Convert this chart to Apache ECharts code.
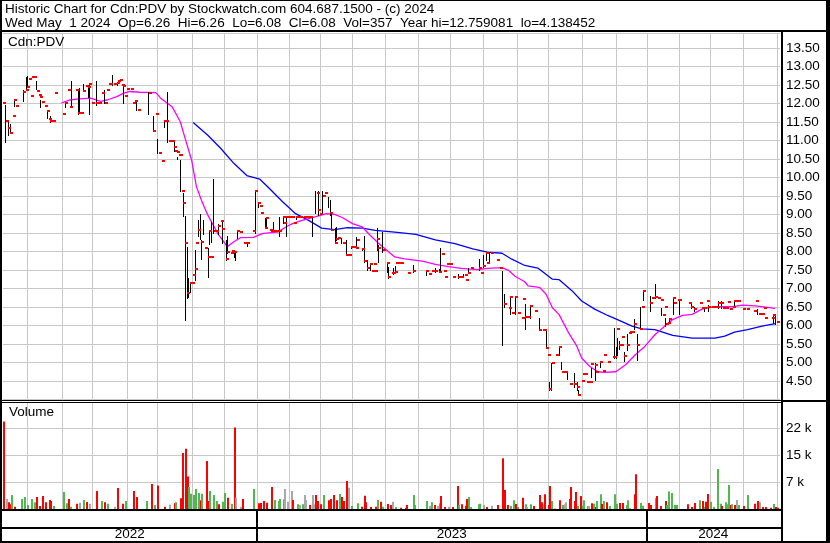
<!DOCTYPE html>
<html>
<head>
<meta charset="utf-8">
<title>Cdn:PDV</title>
<script src="https://cdn.jsdelivr.net/npm/echarts@6/dist/echarts.min.js"></script>
<style>
  html, body { margin: 0; padding: 0; background: #fff; }
  #chart { width: 830px; height: 543px; }
</style>
</head>
<body>
<div id="chart"></div>
<script>
// x = trading day counted from the first bar (May 2022)
const dayMax = 478
const monthStarts = [15, 36, 55, 76, 95, 116, 136, 156, 176, 195, 215, 235, 255, 275, 295, 316, 335, 356, 377, 396, 416, 435, 455, 476]
const yearBreaks = [156, 396]
const yearNames = ['2022', '2023', '2024']
const yearSpans = [[0, 156], [156, 396], [396, 478]]

const header1 = 'Historic Chart for Cdn:PDV by Stockwatch.com 604.687.1500 - (c) 2024'
const header2 = 'Wed May  1 2024  Op=6.26  Hi=6.26  Lo=6.08  Cl=6.08  Vol=357  Year hi=12.759081  lo=4.138452'

// daily range bars [day, low, high]
const ranges = [
  [1, 10.96, 11.96], [3, 11.15, 11.55], [4, 11.2, 11.45], [7, 11.93, 12.12], [12, 12.05, 12.35], [14, 12.35, 12.7],
  [15, 12.5, 12.75], [20, 12.4, 12.6], [23, 11.9, 12.1], [27, 11.6, 11.8], [29, 11.5, 11.65], [38, 11.9, 12.02],
  [42, 11.9, 12.6], [46, 11.7, 12.4], [47, 11.75, 12.42], [49, 12.34, 12.53], [52, 12.18, 12.45], [53, 11.7, 12.53],
  [57, 11.95, 12.6], [62, 12.0, 12.35], [67, 12.5, 12.77], [70, 12.5, 12.58], [74, 12.0, 12.5], [82, 11.82, 12.07],
  [89, 11.7, 12.3], [92, 11.26, 11.67], [95, 10.65, 11.03], [99, 11.35, 11.55], [101, 10.95, 12.3], [105, 10.7, 10.95],
  [107, 10.5, 10.56], [109, 9.62, 10.47], [111, 8.96, 9.58], [112, 6.15, 8.96], [113, 6.74, 8.13], [114, 6.78, 7.27],
  [115, 6.9, 7.14], [118, 7.23, 8.04], [120, 8.42, 8.85], [121, 8.34, 9.02], [122, 7.8, 8.3], [123, 8.48, 8.85],
  [126, 7.3, 8.1], [127, 8.2, 8.52], [128, 8.25, 8.79], [129, 8.5, 9.96], [132, 8.48, 8.75], [135, 8.22, 8.84],
  [137, 7.78, 8.3], [138, 7.96, 8.43], [142, 7.85, 8.0], [143, 7.77, 7.95], [144, 8.35, 8.57], [150, 8.15, 8.24],
  [155, 8.5, 9.62], [157, 9.21, 9.32], [161, 8.62, 8.91], [162, 8.65, 8.92], [166, 8.57, 8.79], [170, 8.43, 8.92],
  [172, 8.77, 8.92], [174, 8.43, 8.92], [180, 8.88, 8.92], [190, 8.43, 8.92], [192, 9.04, 9.62], [194, 8.99, 9.62],
  [196, 9.04, 9.62], [200, 9.21, 9.47], [201, 8.98, 9.38], [202, 8.57, 9.02], [204, 8.24, 8.64], [205, 8.3, 8.66],
  [208, 8.22, 8.37], [211, 7.9, 8.32], [214, 8.08, 8.14], [217, 8.08, 8.39], [221, 8.03, 8.1], [222, 7.71, 8.43],
  [224, 7.49, 7.76], [226, 7.49, 7.67], [230, 8.05, 8.62], [231, 7.71, 8.16], [233, 7.98, 8.52], [236, 7.44, 7.67],
  [237, 7.27, 7.58], [240, 7.4, 7.56], [241, 7.43, 7.6], [252, 7.45, 7.62], [260, 7.36, 7.49], [266, 7.45, 7.55],
  [268, 7.45, 7.52], [269, 7.45, 8.09], [280, 7.29, 7.4], [283, 7.3, 7.4], [286, 7.41, 7.55], [293, 7.49, 7.8],
  [295, 7.58, 7.89], [297, 7.76, 7.98], [299, 7.71, 7.98], [307, 5.46, 7.46], [308, 6.5, 6.86], [312, 6.32, 6.77],
  [315, 6.32, 6.77], [321, 5.9, 6.57], [324, 6.21, 6.53], [330, 5.89, 6.21], [334, 5.39, 5.89], [336, 4.27, 4.48],
  [337, 4.27, 4.98], [342, 5.21, 5.42], [343, 4.82, 5.0], [347, 4.55, 4.73], [351, 4.35, 4.71], [353, 4.27, 4.48],
  [354, 4.12, 4.25], [362, 4.6, 4.85], [364, 4.53, 4.98], [367, 4.89, 5.03], [376, 5.12, 5.94], [377, 5.12, 5.42],
  [378, 5.21, 5.66], [379, 5.36, 5.57], [382, 5.05, 5.27], [384, 5.35, 5.78], [388, 5.91, 6.18], [390, 5.07, 5.78],
  [392, 5.91, 6.51], [394, 6.69, 6.94], [398, 6.39, 6.8], [401, 6.75, 7.12], [405, 6.27, 6.48], [407, 5.98, 6.21],
  [410, 6.07, 6.21], [412, 6.3, 6.75], [416, 6.3, 6.69], [423, 6.48, 6.6], [425, 6.39, 6.51], [431, 6.39, 6.51],
  [434, 6.39, 6.55], [440, 6.48, 6.66], [442, 6.48, 6.66], [450, 6.55, 6.66], [464, 6.3, 6.44], [474, 6.07, 6.3],
  [475, 6.05, 6.27]
]

// closing prices [day, close]
const closes = [
  [0, 12.02], [2, 11.53], [3, 11.34], [4, 11.2], [6, 11.67], [7, 12.1], [8, 11.93], [12, 12.3], [14, 12.36], [15, 12.44],
  [16, 12.65], [17, 12.21], [18, 12.71], [19, 12.72], [21, 12.34], [22, 12.23], [23, 12.18], [24, 12.03], [26, 11.94],
  [27, 11.8], [28, 11.58], [29, 11.53], [30, 11.53], [31, 11.53], [32, 12.27], [37, 11.72], [38, 12.02], [40, 12.35],
  [41, 11.91], [45, 12.35], [46, 11.75], [48, 11.75], [49, 12.34], [51, 12.47], [52, 12.44], [53, 12.53], [55, 12.02],
  [57, 12.02], [59, 12.02], [61, 12.29], [63, 12.02], [64, 12.35], [65, 12.51], [66, 12.51], [68, 12.51], [70, 12.55],
  [71, 12.6], [72, 12.64], [73, 12.5], [74, 12.47], [75, 12.21], [76, 12.4], [79, 12.4], [80, 12.02], [81, 12.05],
  [83, 11.82], [90, 12.27], [92, 11.26], [94, 11.72], [96, 10.67], [98, 10.45], [99, 11.53], [100, 11.53], [102, 10.97],
  [103, 10.97], [104, 10.97], [105, 10.83], [106, 10.7], [107, 10.68], [108, 10.6], [109, 10.6], [110, 9.62], [111, 9.32],
  [112, 8.23], [113, 6.88], [115, 7.16], [116, 7.16], [117, 7.36], [118, 7.53], [119, 8.24], [120, 8.57], [122, 8.26],
  [124, 8.09], [126, 7.86], [127, 8.54], [128, 7.86], [130, 8.54], [131, 8.54], [132, 8.7], [134, 8.82], [135, 8.6],
  [137, 7.8], [138, 7.99], [140, 7.95], [141, 8.0], [142, 7.99], [144, 8.54], [146, 8.53], [148, 8.24], [149, 8.24],
  [150, 8.24], [154, 8.55], [155, 9.62], [157, 9.3], [158, 9.22], [159, 9.05], [161, 8.64], [162, 8.91], [164, 8.58],
  [165, 8.56], [166, 8.56], [167, 8.56], [168, 8.56], [169, 8.56], [170, 8.56], [172, 8.92], [173, 8.77], [174, 8.92],
  [175, 8.92], [176, 8.92], [177, 8.92], [178, 8.92], [179, 8.78], [180, 8.92], [181, 8.92], [182, 8.92], [183, 8.92],
  [185, 8.92], [186, 8.92], [187, 8.92], [188, 8.92], [189, 8.92], [193, 9.59], [194, 9.12], [195, 9.01], [197, 9.5],
  [198, 9.57], [201, 9.03], [202, 8.58], [204, 8.24], [205, 8.33], [206, 8.36], [209, 8.24], [211, 7.91], [213, 7.91],
  [214, 8.11], [216, 8.11], [217, 8.08], [218, 8.31], [221, 8.06], [222, 7.73], [224, 7.55], [226, 7.66], [227, 7.48],
  [228, 7.66], [229, 7.46], [230, 8.34], [231, 8.09], [234, 8.04], [236, 7.68], [237, 7.3], [239, 7.41], [240, 7.41],
  [241, 7.45], [242, 7.68], [243, 7.68], [245, 7.68], [249, 7.41], [252, 7.48], [260, 7.48], [262, 7.39], [264, 7.48],
  [265, 7.48], [266, 7.48], [268, 7.45], [270, 7.93], [271, 7.48], [272, 7.3], [273, 7.66], [274, 7.66], [275, 7.66],
  [277, 7.3], [280, 7.3], [282, 7.3], [284, 7.36], [285, 7.23], [286, 7.41], [288, 7.55], [293, 7.55], [294, 7.41],
  [295, 7.61], [297, 7.97], [298, 7.7], [300, 7.97], [304, 7.77], [306, 7.55], [308, 6.58], [311, 6.46], [312, 6.78],
  [313, 6.35], [315, 6.78], [317, 6.35], [319, 6.19], [320, 6.71], [321, 6.24], [322, 6.23], [323, 6.23], [324, 6.53],
  [327, 6.39], [330, 5.89], [332, 5.89], [333, 5.89], [334, 5.39], [335, 5.21], [336, 4.29], [338, 4.98], [340, 5.21],
  [342, 5.41], [344, 4.73], [345, 4.73], [346, 4.73], [349, 4.42], [351, 4.42], [353, 4.35], [354, 4.12], [356, 4.5],
  [357, 4.69], [358, 4.69], [359, 4.48], [361, 4.48], [362, 4.96], [364, 4.94], [365, 4.75], [367, 5.0], [369, 4.78],
  [370, 5.21], [372, 5.0], [375, 5.14], [376, 5.14], [378, 5.91], [379, 5.48], [380, 5.48], [381, 5.68], [382, 5.18],
  [384, 5.48], [385, 5.8], [386, 5.82], [387, 5.82], [388, 6.05], [390, 5.48], [392, 5.91], [393, 6.51], [394, 6.94],
  [398, 6.62], [399, 6.75], [401, 6.77], [403, 6.74], [405, 6.69], [406, 6.27], [407, 6.51], [408, 6.03], [409, 6.06],
  [410, 6.18], [412, 6.73], [413, 6.6], [415, 6.69], [416, 6.69], [422, 6.62], [423, 6.51], [425, 6.45], [429, 6.6],
  [430, 6.48], [431, 6.46], [433, 6.66], [434, 6.51], [436, 6.51], [437, 6.51], [438, 6.51], [439, 6.51], [440, 6.6],
  [442, 6.6], [443, 6.48], [444, 6.48], [445, 6.48], [446, 6.64], [447, 6.45], [449, 6.5], [450, 6.66], [451, 6.66],
  [452, 6.66], [455, 6.44], [458, 6.44], [462, 6.39], [463, 6.66], [465, 6.3], [466, 6.3], [467, 6.3], [468, 6.46],
  [469, 6.21], [473, 6.21], [474, 6.27], [476, 6.08]
]

// short moving average (magenta) [day, value]
const maFast = [
  [36, 12.01], [41, 12.09], [47, 12.12], [54, 12.14], [60, 12.05], [64, 12.09], [70, 12.18], [74, 12.27], [78, 12.32],
  [84, 12.3], [94, 12.29], [97, 12.14], [104, 11.91], [109, 11.51], [112, 11.06], [116, 10.47], [119, 9.75], [122, 9.39],
  [126, 8.98], [132, 8.49], [138, 8.13], [142, 8.26], [146, 8.37], [154, 8.38], [160, 8.49], [169, 8.52], [174, 8.66],
  [178, 8.75], [184, 8.84], [192, 8.93], [199, 9.02], [204, 9.0], [209, 8.91], [215, 8.75], [221, 8.66], [226, 8.43],
  [231, 8.22], [235, 8.07], [241, 7.85], [247, 7.8], [258, 7.74], [266, 7.65], [274, 7.59], [282, 7.54], [292, 7.51],
  [298, 7.54], [307, 7.56], [311, 7.49], [315, 7.33], [321, 7.18], [323, 7.07], [330, 7.03], [334, 6.85], [338, 6.48],
  [342, 6.3], [348, 5.8], [353, 5.44], [356, 5.12], [361, 4.89], [366, 4.75], [370, 4.73], [377, 4.75], [383, 4.94],
  [389, 5.21], [395, 5.44], [401, 5.75], [407, 5.98], [412, 6.16], [418, 6.27], [424, 6.3], [430, 6.44], [438, 6.51],
  [449, 6.51], [455, 6.55], [463, 6.53], [475, 6.46]
]

// long moving average (blue) [day, value]
const maSlow = [
  [117, 11.48], [126, 11.14], [134, 10.78], [142, 10.38], [150, 10.05], [158, 9.95], [163, 9.74], [172, 9.34], [180, 9.02],
  [188, 8.84], [196, 8.63], [204, 8.59], [212, 8.64], [221, 8.63], [229, 8.57], [241, 8.52], [254, 8.46], [266, 8.31],
  [278, 8.21], [289, 8.07], [298, 7.98], [307, 7.95], [313, 7.79], [321, 7.62], [329, 7.55], [338, 7.25], [342, 7.24],
  [350, 6.94], [356, 6.66], [364, 6.44], [372, 6.27], [378, 6.16], [387, 5.98], [393, 5.91], [401, 5.89], [412, 5.73],
  [424, 5.66], [438, 5.66], [444, 5.71], [450, 5.82], [458, 5.89], [467, 5.98], [475, 6.05]
]

// volume [day, shares, r = down / g = up / n = unchanged]
const volume = [
  [0, 23700, 'r'], [2, 2700, 'n'], [3, 1800, 'r'], [4, 1270, 'r'], [5, 3800, 'g'], [7, 630, 'r'], [11, 2700, 'g'],
  [13, 3260, 'g'], [15, 1090, 'g'], [17, 2700, 'g'], [19, 1810, 'g'], [20, 3260, 'r'], [22, 815, 'r'], [24, 3530, 'r'],
  [26, 1810, 'r'], [28, 2440, 'r'], [29, 2170, 'r'], [31, 815, 'g'], [37, 4620, 'g'], [39, 1540, 'g'], [40, 2700, 'r'],
  [41, 630, 'g'], [45, 1450, 'r'], [47, 1720, 'n'], [49, 2440, 'g'], [51, 1900, 'r'], [53, 1450, 'n'], [57, 4890, 'r'],
  [60, 2170, 'g'], [62, 1810, 'r'], [64, 1450, 'g'], [68, 630, 'n'], [70, 5700, 'r'], [73, 1450, 'r'], [75, 2170, 'g'],
  [80, 4890, 'r'], [82, 3260, 'r'], [88, 2170, 'g'], [91, 6790, 'r'], [93, 1090, 'g'], [95, 6340, 'r'], [99, 630, 'r'],
  [102, 1180, 'n'], [105, 1540, 'r'], [106, 1810, 'g'], [109, 2900, 'r'], [110, 15200, 'r'], [112, 16300, 'r'],
  [113, 8780, 'r'], [114, 5970, 'g'], [115, 4160, 'g'], [117, 3800, 'g'], [118, 5430, 'g'], [120, 4340, 'g'],
  [121, 2350, 'r'], [122, 4160, 'g'], [125, 13030, 'r'], [126, 2170, 'r'], [127, 4890, 'g'], [129, 3800, 'g'],
  [131, 2170, 'g'], [132, 1270, 'r'], [135, 1990, 'g'], [136, 4340, 'g'], [138, 3080, 'r'], [140, 1360, 'g'],
  [142, 22080, 'r'], [143, 3080, 'n'], [146, 540, 'n'], [147, 2700, 'r'], [154, 5430, 'g'], [157, 1540, 'r'],
  [158, 1630, 'r'], [160, 2170, 'r'], [162, 1720, 'r'], [165, 5970, 'r'], [167, 2440, 'g'], [169, 2170, 'g'],
  [170, 2700, 'g'], [172, 2620, 'g'], [173, 5430, 'n'], [175, 1990, 'n'], [177, 4890, 'n'], [178, 2440, 'r'],
  [181, 1270, 'g'], [182, 1090, 'n'], [184, 1270, 'g'], [185, 3800, 'n'], [186, 2440, 'n'], [188, 1090, 'r'],
  [190, 3800, 'n'], [191, 1270, 'n'], [192, 3800, 'r'], [193, 2170, 'r'], [195, 1270, 'r'], [197, 3800, 'g'],
  [200, 2350, 'r'], [201, 2700, 'r'], [203, 3800, 'r'], [205, 2350, 'r'], [207, 4070, 'g'], [208, 3260, 'r'],
  [209, 2170, 'r'], [211, 7600, 'r'], [212, 5790, 'n'], [214, 815, 'g'], [218, 1540, 'g'], [220, 630, 'r'],
  [222, 3620, 'r'], [223, 1810, 'r'], [226, 540, 'r'], [229, 630, 'r'], [230, 2440, 'g'], [232, 1990, 'r'],
  [233, 630, 'g'], [236, 1360, 'r'], [238, 1090, 'r'], [239, 1990, 'n'], [241, 540, 'g'], [244, 360, 'r'],
  [247, 360, 'r'], [248, 1090, 'r'], [252, 3800, 'g'], [253, 1090, 'g'], [260, 2170, 'g'], [262, 905, 'n'],
  [263, 1810, 'g'], [265, 1090, 'r'], [267, 815, 'n'], [268, 1540, 'g'], [269, 3530, 'r'], [271, 540, 'r'],
  [274, 630, 'n'], [276, 540, 'r'], [279, 6245, 'r'], [280, 1090, 'g'], [282, 1270, 'r'], [284, 905, 'r'],
  [285, 2700, 'r'], [286, 3260, 'g'], [287, 540, 'g'], [292, 1270, 'g'], [293, 1450, 'g'], [295, 1090, 'n'],
  [297, 540, 'r'], [300, 905, 'n'], [304, 1090, 'r'], [307, 13760, 'r'], [308, 5160, 'r'], [310, 1090, 'r'],
  [312, 815, 'g'], [314, 2350, 'g'], [315, 1360, 'r'], [316, 540, 'g'], [319, 3080, 'r'], [321, 1270, 'g'],
  [322, 540, 'n'], [324, 1270, 'g'], [326, 815, 'r'], [330, 3800, 'r'], [331, 1810, 'r'], [332, 1270, 'n'],
  [333, 3980, 'r'], [335, 1090, 'r'], [336, 6245, 'r'], [337, 2170, 'g'], [339, 180, 'n'], [342, 2350, 'r'],
  [344, 1090, 'g'], [345, 1270, 'n'], [346, 1810, 'n'], [348, 2700, 'r'], [349, 5970, 'r'], [351, 2170, 'r'],
  [352, 4620, 'r'], [353, 815, 'g'], [355, 3530, 'r'], [356, 815, 'g'], [357, 2350, 'g'], [359, 815, 'g'],
  [360, 815, 'n'], [362, 1540, 'r'], [363, 1450, 'g'], [364, 540, 'r'], [365, 2170, 'g'], [367, 3980, 'g'],
  [368, 1360, 'r'], [369, 2170, 'g'], [371, 1810, 'r'], [373, 815, 'g'], [376, 3980, 'g'], [377, 1450, 'g'],
  [379, 1630, 'r'], [381, 1630, 'r'], [383, 1090, 'g'], [384, 2350, 'g'], [385, 180, 'g'], [388, 3980, 'r'],
  [389, 9410, 'r'], [392, 1630, 'g'], [393, 905, 'g'], [397, 1630, 'r'], [398, 1090, 'r'], [401, 2900, 'g'],
  [402, 3530, 'r'], [404, 815, 'r'], [407, 2170, 'r'], [408, 1090, 'g'], [409, 4710, 'g'], [411, 4340, 'g'],
  [413, 1090, 'g'], [414, 1090, 'g'], [421, 1270, 'r'], [423, 540, 'r'], [425, 1630, 'r'], [428, 2350, 'g'],
  [430, 2170, 'r'], [431, 540, 'g'], [432, 1990, 'r'], [433, 4070, 'r'], [435, 1990, 'g'], [437, 540, 'g'],
  [439, 10860, 'g'], [441, 1450, 'g'], [442, 815, 'r'], [444, 1810, 'g'], [445, 1270, 'g'], [446, 6520, 'g'],
  [447, 1090, 'r'], [448, 1270, 'g'], [450, 1090, 'r'], [451, 2440, 'n'], [452, 1090, 'g'], [455, 815, 'r'],
  [458, 3800, 'g'], [462, 1450, 'r'], [464, 2170, 'r'], [465, 1810, 'n'], [467, 540, 'r'], [469, 540, 'r'],
  [472, 360, 'r'], [474, 1360, 'g'], [475, 540, 'r'], [476, 357, 'r']
]

const fontFamily = '"Liberation Sans", Arial, sans-serif'
const gridColor = '#c8c8c8'
const volColors = { r: '#ff0000', g: '#50b850', n: '#a8a8a8' }

const myChart = echarts.init(document.getElementById('chart'))

// vertical month lines, drawn through the x axis of the grid
const renderMonthLine = (params, api) => {
  const x = Math.round(api.coord([api.value(0), api.value(1)])[0]) + 0.5
  const cs = params.coordSys
  return {
    type: 'line',
    shape: { x1: x, y1: cs.y, x2: x, y2: cs.y + cs.height },
    style: { stroke: gridColor, lineWidth: 1 }
  }
}

// high-low bar
const renderRange = (params, api) => {
  const hi = api.coord([api.value(0), api.value(2)])
  const lo = api.coord([api.value(0), api.value(1)])
  const x = Math.round(hi[0]) + 0.5
  return {
    type: 'line',
    shape: { x1: x, y1: Math.round(hi[1]), x2: x, y2: Math.round(lo[1]) + 1 },
    style: { stroke: '#000', lineWidth: 1 }
  }
}

// red close tick
const renderClose = (params, api) => {
  const p = api.coord([api.value(0), api.value(1)])
  return {
    type: 'rect',
    shape: { x: Math.round(p[0]), y: Math.round(p[1]) - 1, width: 3, height: 2 },
    style: { fill: '#ff0000' }
  }
}

// volume column
const renderVolume = (params, api) => {
  const top = api.coord([api.value(0), api.value(1)])
  const base = api.coord([api.value(0), 0])
  return {
    type: 'rect',
    shape: { x: Math.round(top[0]), y: top[1], width: 2, height: base[1] - top[1] },
    style: { fill: volColors[volume[params.dataIndex][2]] }
  }
}

const renderYearBreak = (params, api) => {
  const x = Math.round(api.coord([api.value(0), 0])[0])
  const cs = params.coordSys
  return {
    type: 'rect',
    shape: { x: x - 1, y: cs.y, width: 2, height: cs.height },
    style: { fill: '#000' }
  }
}

const renderYearName = (params, api) => {
  const a = api.coord([api.value(0), 0])
  const b = api.coord([api.value(1), 0])
  const cs = params.coordSys
  return {
    type: 'text',
    style: {
      text: yearNames[params.dataIndex],
      x: (a[0] + b[0]) / 2,
      y: cs.y + cs.height - 6.5,
      align: 'center',
      verticalAlign: 'middle',
      fill: '#000',
      font: '13.5px ' + fontFamily
    }
  }
}

const textStyle = { fontSize: 13.5, fontWeight: 'normal', fontFamily: fontFamily, color: '#000' }
const bar = (x, y, w, h) => ({ type: 'rect', z: 100, silent: true, shape: { x: x, y: y, width: w, height: h }, style: { fill: '#000' } })

const options = {
  animation: false,
  backgroundColor: '#fff',
  title: [
    { text: header1, left: 5, top: 2, padding: 0, textStyle: textStyle },
    { text: header2, left: 5, top: 16, padding: 0, textStyle: textStyle },
    { text: 'Cdn:PDV', left: 8, top: 35, padding: 0, textStyle: textStyle },
    { text: 'Volume', left: 9, top: 405, padding: 0, textStyle: textStyle }
  ],
  grid: [
    { left: 3, right: 50, top: 33, height: 366.5, outerBoundsMode: 'none' },
    { left: 3, right: 50, top: 402, height: 107, outerBoundsMode: 'none' },
    { left: 3, right: 50, top: 510, height: 31, outerBoundsMode: 'none' }
  ],
  xAxis: [0, 1, 2].map(i => ({ gridIndex: i, type: 'value', min: 0, max: dayMax, show: false })),
  yAxis: [
    {
      gridIndex: 0,
      type: 'value',
      position: 'right',
      min: 4,
      max: 13.9,
      interval: 0.5,
      axisLine: { show: false },
      axisTick: { show: false },
      axisLabel: {
        showMinLabel: false,
        showMaxLabel: false,
        margin: 6,
        color: '#000',
        fontSize: 13.5,
        fontFamily: fontFamily,
        formatter: v => v.toFixed(2)
      },
      splitLine: { lineStyle: { color: gridColor } }
    },
    {
      gridIndex: 1,
      type: 'value',
      position: 'right',
      min: 0,
      max: 29000,
      interval: 22000 / 3,
      axisLine: { show: false },
      axisTick: { show: false },
      axisLabel: {
        showMinLabel: false,
        showMaxLabel: false,
        margin: 6,
        color: '#000',
        fontSize: 13.5,
        fontFamily: fontFamily,
        formatter: v => Math.round(v / 1000) + ' k'
      },
      splitLine: { lineStyle: { color: gridColor } }
    },
    { gridIndex: 2, type: 'value', min: 0, max: 1, show: false }
  ],
  series: [
    {
      type: 'custom', xAxisIndex: 0, yAxisIndex: 0, z: 1, silent: true,
      encode: { x: 0, y: 1 },
      data: monthStarts.map(d => [d, 5]),
      renderItem: renderMonthLine
    },
    {
      type: 'custom', xAxisIndex: 1, yAxisIndex: 1, z: 1, silent: true,
      encode: { x: 0, y: 1 },
      data: monthStarts.map(d => [d, 0]),
      renderItem: renderMonthLine
    },
    {
      name: 'slow', type: 'line', xAxisIndex: 0, yAxisIndex: 0, z: 3,
      data: maSlow, showSymbol: false, lineStyle: { color: '#0000ff', width: 1.3 }
    },
    {
      name: 'fast', type: 'line', xAxisIndex: 0, yAxisIndex: 0, z: 3,
      data: maFast, showSymbol: false, lineStyle: { color: '#ff00ff', width: 1.3 }
    },
    {
      type: 'custom', xAxisIndex: 0, yAxisIndex: 0, z: 4,
      encode: { x: 0, y: [1, 2] },
      data: ranges,
      renderItem: renderRange
    },
    {
      type: 'custom', xAxisIndex: 0, yAxisIndex: 0, z: 5,
      encode: { x: 0, y: 1 },
      data: closes,
      renderItem: renderClose
    },
    {
      type: 'custom', xAxisIndex: 1, yAxisIndex: 1, z: 4,
      encode: { x: 0, y: 1 },
      data: volume.map(v => [v[0], v[1]]),
      renderItem: renderVolume
    },
    {
      type: 'custom', xAxisIndex: 2, yAxisIndex: 2, z: 4,
      encode: { x: 0 },
      data: yearBreaks.map(d => [d, 0]),
      renderItem: renderYearBreak
    },
    {
      type: 'custom', xAxisIndex: 2, yAxisIndex: 2, z: 4,
      encode: { x: [0, 1] },
      data: yearSpans,
      renderItem: renderYearName
    }
  ],
  // frame lines
  graphic: [
    bar(0, 0, 830, 1),
    bar(0, 0, 2, 543),
    bar(0, 30, 830, 2),
    bar(826, 0, 4, 543),
    bar(781, 30, 2, 513),
    bar(0, 400, 781, 1),
    bar(0, 402, 781, 1),
    bar(781, 400, 49, 2),
    bar(0, 509, 781, 2),
    bar(0, 527, 781, 2),
    bar(0, 541, 830, 2)
  ]
}

myChart.setOption(options)
</script>
</body>
</html>
